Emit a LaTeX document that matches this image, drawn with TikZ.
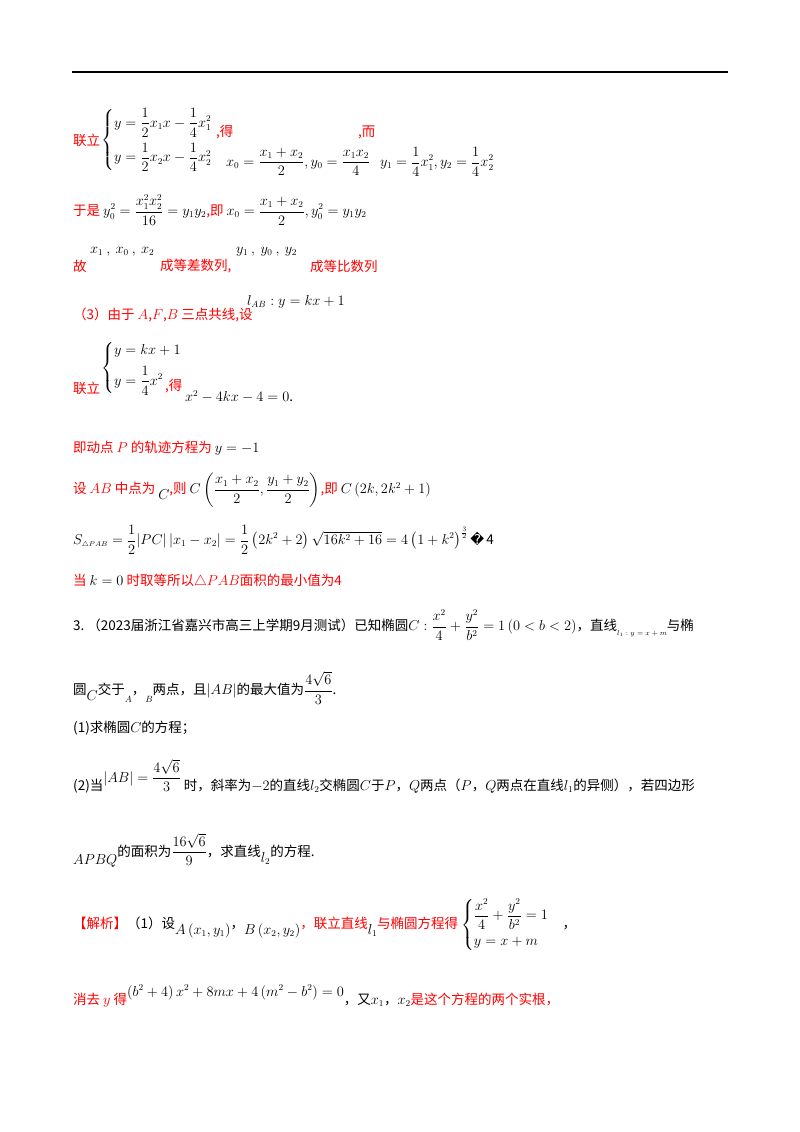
\documentclass[tikz,border=0pt]{standalone}
\usepackage{amsmath}
\usepackage[no-math]{fontspec}
\setmainfont{Noto Sans CJK SC}
\newfontfamily\dv{DejaVu Sans}
\begin{document}
\begin{tikzpicture}[x=1pt,y=-1pt,
  t/.style={anchor=west,inner sep=0pt,font=\fontsize{13.5}{16}\selectfont},
  r/.style={t,text=red},
  b/.style={t,text=black}]
\useasboundingbox (0,0) rectangle (800,1132);
\draw[line width=1.6pt] (72,72) -- (728,72);
% block 1
\node[r] (a1) at (73,140) {联立};
\node[b] (a2) at (101,140) {$\begin{cases} y=\dfrac12x_1x-\dfrac14x_1^2\\[10pt] y=\dfrac12x_2x-\dfrac14x_2^2\end{cases}$};
\node[r] (a3) at (216,132) {,得};
\node[b] (a4) at (226,162) {$\displaystyle x_0=\frac{x_1+x_2}{2},y_0=\frac{x_1x_2}{4}$};
\node[r] (a5) at (358,132) {,而};
\node[b] (a6) at (380,162) {$\displaystyle y_1=\frac14x_1^2,y_2=\frac14x_2^2$};
\node[r] (b1) at (73,210) {于是 \textcolor{black}{$\displaystyle y_0^2=\frac{x_1^2x_2^2}{16}=y_1y_2$},即 \textcolor{black}{$\displaystyle x_0=\frac{x_1+x_2}{2},y_0^2=y_1y_2$}};
\node[r] (c1) at (73,266) {故};
\node[b] (c2) at (90,252) {$x_1\ ,\ x_0\ ,\ x_2$};
\node[r] (c3) at (160,266) {成等差数列,};
\node[b] (c4) at (236,252) {$y_1\ ,\ y_0\ ,\ y_2$};
\node[r] (c5) at (310,266) {成等比数列};
% (3)
\node[r] (d1) at (73,315) {（3）由于 $A$,$F$,$B$ 三点共线,设};
\node[b] (d2) at (247,302) {$l_{AB}:y=kx+1$};
\node[r] (e1) at (73,388) {联立};
\node[b] (e2) at (101,368) {$\begin{cases} y=kx+1\\[6pt] y=\dfrac14x^2\end{cases}$};
\node[r] (e3) at (165,386) {,得};
\node[b] (e4) at (185,397) {$x^2-4kx-4=0$.};
\node[r] (f1) at (73,448) {即动点 $P$ 的轨迹方程为 \textcolor{black}{$y=-1$}};
\node[r] (g1) at (73,490) {设 $AB$ 中点为 \raisebox{-6pt}{\textcolor{black}{$C$}},则 \textcolor{black}{$\displaystyle C\left(\frac{x_1+x_2}{2},\frac{y_1+y_2}{2}\right)$},即 \textcolor{black}{$C\left(2k,2k^2+1\right)$}};
\node[b] (h1) at (73,540) {$\displaystyle S_{\scriptscriptstyle\triangle PAB}=\frac12|PC|\left|x_1-x_2\right|=\frac12\left(2k^2+2\right)\sqrt{16k^2+16}=4\left(1+k^2\right)^{\frac32}$\,{\dv\char"FFFD}\,4};
\node[r] (i1) at (73,581) {当 \textcolor{black}{$k=0$} 时取等所以$\triangle PAB$面积的最小值为4};
% problem 3
\node[b] (j1) at (73,625) {3.\ （2023届浙江省嘉兴市高三上学期9月测试）已知椭圆$\displaystyle C:\frac{x^2}{4}+\frac{y^2}{b^2}=1\left(0<b<2\right)$，直线\raisebox{-5pt}{\scriptsize$l_1:y=x+m$}与椭};
\node[b] (k1) at (73,688) {圆\raisebox{-6pt}{$C$}交于\raisebox{-8pt}{\small$A$}，\raisebox{-8pt}{\small$B$}两点，且$|AB|$的最大值为$\displaystyle\frac{4\sqrt6}{3}$.};
\node[b] (l1) at (73,728) {(1)求椭圆$C$的方程；};
\node[b] (m1) at (73,776) {(2)当\raisebox{8pt}{$\displaystyle|AB|=\frac{4\sqrt6}{3}$}\ 时，斜率为$-2$的直线$l_2$交椭圆$C$于$P$，$Q$两点（$P$，$Q$两点在直线$l_1$的异侧），若四边形};
\node[b] (n1) at (73,850) {\raisebox{-8pt}{$APBQ$}的面积为$\displaystyle\frac{16\sqrt6}{9}$，求直线\raisebox{-6pt}{$l_2$}的方程.};
\node[r] (o1) at (73,925) {【解析】\textcolor{black}{（1）设\raisebox{-6pt}{$A\left(x_1,y_1\right)$}，\raisebox{-6pt}{$B\left(x_2,y_2\right)$}}，联立直线\raisebox{-6pt}{\textcolor{black}{$l_1$}}与椭圆方程得 \textcolor{black}{$\begin{cases}\dfrac{x^2}{4}+\dfrac{y^2}{b^2}=1\\[6pt] y=x+m\end{cases}$}\textcolor{black}{，}};
\node[r] (p1) at (73,996) {消去 $y$ 得\raisebox{8pt}{\textcolor{black}{$\left(b^2+4\right)x^2+8mx+4\left(m^2-b^2\right)=0$}}\textcolor{black}{，又$x_1$，$x_2$}是这个方程的两个实根，};
\end{tikzpicture}
\end{document}
